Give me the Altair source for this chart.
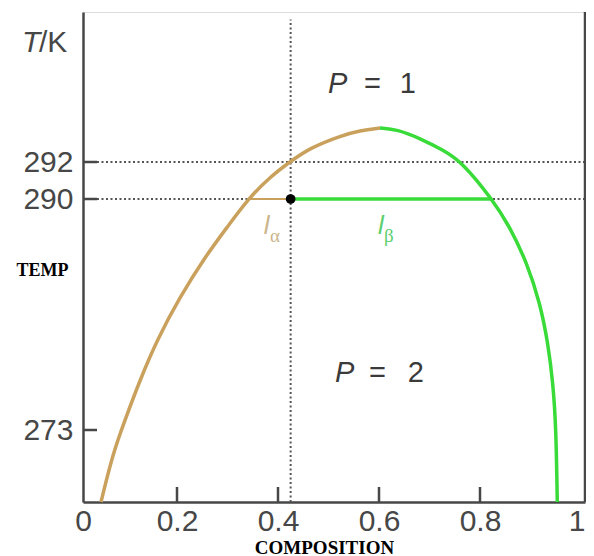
import altair as alt
import pandas as pd

# ---- data (composition, temperature in K) ----
alpha_comp = [0.0383, 0.0638, 0.0894, 0.1213, 0.1574, 0.2059, 0.2554, 0.3010, 0.3406, 0.3842, 0.4257, 0.4634, 0.5228, 0.5624, 0.6020]
alpha_temp = [268.0, 271.40, 273.74, 276.68, 279.62, 282.79, 285.73, 288.01, 290.0, 291.19, 292.05, 292.75, 293.39, 293.68, 293.81]
beta_comp = [0.6020, 0.6356, 0.6812, 0.7267, 0.7644, 0.8229, 0.8571, 0.8895, 0.9143, 0.9295, 0.9390, 0.9448, 0.9472]
beta_temp = [293.81, 293.74, 293.26, 292.64, 292.0, 290.0, 287.94, 285.29, 282.35, 279.40, 276.46, 273.22, 268.0]

tie_temp = 290
tie_alpha_end = 0.341
overall_comp = 0.425
tie_beta_end = 0.823

dotted_temps = [290, 292]
vline_bottom, vline_top = 268, 299.6

x_tick_values = [0.2, 0.4, 0.6, 0.8]
x_label_values = [0, 0.2, 0.4, 0.6, 0.8, 1]
y_tick_values = [273, 290, 292]

# annotations: text, composition, temperature
italic_text = ["P", "P", "l", "l"]
italic_comp = [0.499, 0.513, 0.372, 0.598]
italic_temp = [295.68, 276.53, 287.42, 287.42]
italic_size = [29, 29, 26, 26]
italic_color = ["#3a3a3a", "#3a3a3a", "#cbb68c", "#5ccf6e"]

plain_text = ["=", "1", "=", "2"]
plain_comp = [0.587, 0.657, 0.597, 0.673]
plain_temp = [295.68, 295.68, 276.53, 276.53]

sub_text = ["α", "β"]
sub_comp = [0.384, 0.610]
sub_temp = [286.84, 286.84]
sub_color = ["#cbb68c", "#5ccf6e"]

# ---- styles ----
TAN = "#c9a15c"
GREEN = "#38db38"
AX = "#474747"
DOT = "#555555"
W, H = 502, 490

xs = alt.Scale(domain=[0, 0.2, 0.8, 1], range=[0, 94, 397, 502], nice=False, zero=False)
ys = alt.Scale(domain=[268, 273, 290, 292, 300], range=[490, 418, 187, 150, 0], nice=False, zero=False)

x_axis = alt.Axis(values=x_label_values, format="~g", ticks=False, tickSize=0, labelPadding=4,
                  labelFontSize=30, labelFont="Liberation Sans", labelColor=AX, labelFlush=False,
                  labelOverlap=False, domainColor=AX, domainWidth=2.5, grid=False,
                  labelAlign=alt.condition("datum.value == 1", alt.value("right"), alt.value("center")),
                  title="COMPOSITION", titleFont="Liberation Serif", titleFontWeight="bold",
                  titleFontSize=19, titleColor="black", titleX=241, titleY=51,
                  titleAlign="center", titleBaseline="alphabetic")
y_axis = alt.Axis(values=y_tick_values, format="d", ticks=False, tickSize=0, labelPadding=10,
                  labelFontSize=30, labelFont="Liberation Sans", labelColor=AX, labelFlush=False,
                  labelOverlap=False, domainColor=AX, domainWidth=2.5, grid=False,
                  title="TEMP", titleFont="Liberation Serif", titleFontWeight="bold",
                  titleFontSize=18, titleColor="black", titleAngle=0, titleX=-41, titleY=258,
                  titleAlign="center", titleBaseline="middle")

X = alt.X("comp:Q", scale=xs, axis=x_axis)
Y = alt.Y("T:Q", scale=ys, axis=y_axis)

curve_df = pd.DataFrame({
    "comp": alpha_comp + beta_comp,
    "T": alpha_temp + beta_temp,
    "branch": ["alpha"] * len(alpha_comp) + ["beta"] * len(beta_comp),
    "i": list(range(len(alpha_comp))) + list(range(len(beta_comp))),
})

hdot = alt.Chart(pd.DataFrame({"T": dotted_temps})).mark_rule(
    color=DOT, strokeWidth=2, strokeDash=[2, 2.5]).encode(y=Y)
vdot = alt.Chart(pd.DataFrame({"comp": [overall_comp], "T": [vline_bottom], "T2": [vline_top]})).mark_rule(
    color=DOT, strokeWidth=2, strokeDash=[2, 2.5]).encode(x=X, y=Y, y2="T2:Q")

border = alt.Chart(pd.DataFrame({"comp": [1]})).mark_rule(color=AX, strokeWidth=2.5).encode(x=X)

tie_a = alt.Chart(pd.DataFrame({"comp": [tie_alpha_end], "c2": [overall_comp], "T": [tie_temp]})).mark_rule(
    color=TAN, strokeWidth=2.2).encode(x=X, x2="c2:Q", y=Y)
tie_b = alt.Chart(pd.DataFrame({"comp": [overall_comp], "c2": [tie_beta_end], "T": [tie_temp]})).mark_rule(
    color=GREEN, strokeWidth=3.5).encode(x=X, x2="c2:Q", y=Y)

curves = alt.Chart(curve_df).mark_line(strokeWidth=3.5, interpolate="basis").encode(
    x=X, y=Y,
    color=alt.Color("branch:N", scale=alt.Scale(domain=["alpha", "beta"], range=[TAN, GREEN]), legend=None),
    order="i:Q")

point = alt.Chart(pd.DataFrame({"comp": [overall_comp], "T": [tie_temp]})).mark_circle(
    size=95, color="black", opacity=1).encode(x=X, y=Y)

xticks = alt.Chart(pd.DataFrame({"comp": x_tick_values})).mark_tick(
    orient="vertical", size=15, thickness=2.5, color=AX, opacity=1).encode(x=X, y=alt.value(H - 7.5))
yticks = alt.Chart(pd.DataFrame({"T": y_tick_values})).mark_tick(
    orient="horizontal", size=14, thickness=2.5, color=AX, opacity=1).encode(y=Y, x=alt.value(7))

ital = alt.Chart(pd.DataFrame({"t": italic_text, "comp": italic_comp, "T": italic_temp,
                               "fs": italic_size, "col": italic_color})).mark_text(
    align="left", baseline="alphabetic", font="Liberation Sans", fontStyle="italic").encode(
    x=X, y=Y, text="t:N", size=alt.Size("fs:Q", scale=None), color=alt.Color("col:N", scale=None))
plain = alt.Chart(pd.DataFrame({"t": plain_text, "comp": plain_comp, "T": plain_temp})).mark_text(
    align="center", baseline="alphabetic", font="Liberation Sans", fontSize=29, color="#3a3a3a").encode(
    x=X, y=Y, text="t:N")
subs = alt.Chart(pd.DataFrame({"t": sub_text, "comp": sub_comp, "T": sub_temp, "col": sub_color})).mark_text(
    align="left", baseline="alphabetic", font="Liberation Serif", fontSize=19).encode(
    x=X, y=Y, text="t:N", color=alt.Color("col:N", scale=None))

tk_T = alt.Chart(pd.DataFrame({"t": ["T"]})).mark_text(
    align="left", baseline="alphabetic", font="Liberation Sans", fontStyle="italic", fontSize=30,
    color=AX).encode(x=alt.value(-61), y=alt.value(40), text="t:N")
tk_K = alt.Chart(pd.DataFrame({"t": ["/K"]})).mark_text(
    align="left", baseline="alphabetic", font="Liberation Sans", fontSize=30,
    color=AX).encode(x=alt.value(-44), y=alt.value(40), text="t:N")

chart = alt.layer(hdot, vdot, border, tie_a, curves, tie_b, point, xticks, yticks,
                  ital, plain, subs, tk_T, tk_K).properties(
    width=W, height=H,
    autosize=alt.AutoSizeParams(type="none"),
    padding={"left": 75, "top": 4, "right": 1, "bottom": 56},
).configure_view(strokeWidth=0).configure(background="white")

chart.save("out.html", embed_options={"renderer": "svg", "actions": False})
